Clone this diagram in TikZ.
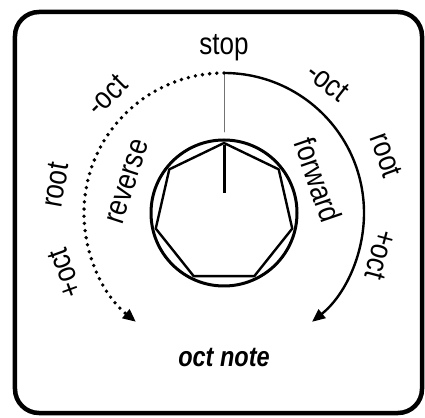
\documentclass[tikz,border=0pt]{standalone}
\usepackage{fontspec}
\setmainfont[FakeStretch=0.84]{Liberation Sans}
\usetikzlibrary{arrows.meta}
\tikzset{
  lbl/.style={font=\fontsize{31}{31}\selectfont, inner sep=0pt},
  titlelbl/.style={font=\fontsize{28}{28}\selectfont\bfseries\itshape, inner sep=0pt},
  dirarc/.style={line width=2.4pt, -{Triangle[length=13pt,width=11pt]}},
}
\begin{document}
\begin{tikzpicture}[x=1pt, y=1pt, line cap=round, line join=round]
			% Window bounds
			\def\xmin{-224} \def\xmax{201}
			\def\ymin{-204} \def\ymax{213}
			\def\rarc{140} \def\rknob{73}
			\useasboundingbox (\xmin,\ymin) rectangle (\xmax,\ymax);
			
			% Panel frame
			\draw[line width=4.5pt, rounded corners=24pt] (-209,201) rectangle (198,-200);
			
			% Knob body and heptagon cap
			\draw[line width=3pt] (0,0) circle (\rknob);
			\draw[line width=2.4pt] (90:70) \foreach \a in {1,...,6} { -- (90-\a*360/7:70) } -- cycle;
			
			% Pointer and stop mark
			\draw[line width=3pt, line cap=butt] (0,68) -- (0,20);
			\draw[black!55, line width=1pt] (0,\rarc) -- (0,81);
			
			% Forward and reverse travel
			\draw[dirarc] (90:\rarc) arc (90:-51:\rarc);
			\draw[dirarc, dash pattern=on 0pt off 7.2pt, line width=3.8pt] (90:\rarc) arc (90:231:\rarc);
			
			% Labels
			\node[lbl] (stop) at (0,165) {stop};
			\node[lbl, rotate=-38] (fwdmin) at (51.6:167) {-oct};
			\node[lbl, rotate=-70] (fwdroot) at (19.6:172) {root};
			\node[lbl, rotate=-105] (fwdplus) at (-15:162) {+oct};
			\node[lbl, rotate=45] (revmin) at (134.8:166) {-oct};
			\node[lbl, rotate=80] (revroot) at (170.6:171) {root};
			\node[lbl, rotate=110] (revplus) at (200.7:170) {+oct};
			\node[lbl, rotate=72] (reverse) at (162:101) {reverse};
			\node[lbl, rotate=-71] (forward) at (19.3:100) {forward};
			\node[titlelbl] (title) at (0,-145) {oct note};
		\end{tikzpicture}
\end{document}
